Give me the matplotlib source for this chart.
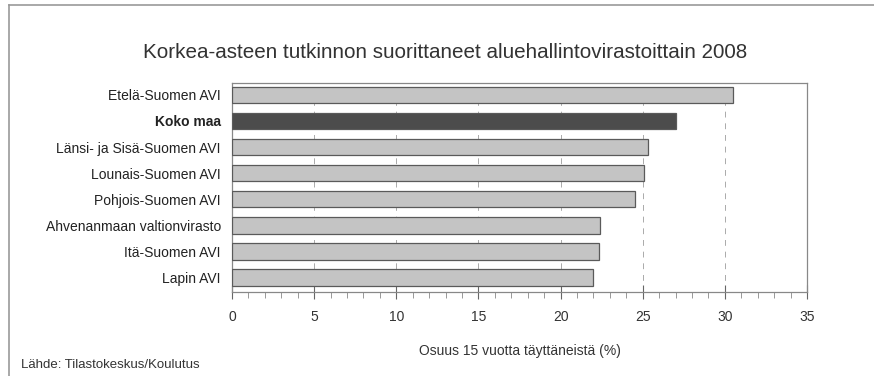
import matplotlib
matplotlib.use("Agg")
import matplotlib.pyplot as plt
from matplotlib.ticker import MultipleLocator
from matplotlib.lines import Line2D

categories = ["Etelä-Suomen AVI", "Koko maa", "Länsi- ja Sisä-Suomen AVI",
              "Lounais-Suomen AVI", "Pohjois-Suomen AVI",
              "Ahvenanmaan valtionvirasto", "Itä-Suomen AVI", "Lapin AVI"]
values = [30.5, 27.0, 25.3, 25.1, 24.5, 22.4, 22.35, 22.0]
highlight = "Koko maa"
xticks = [0, 5, 10, 15, 20, 25, 30, 35]
title = "Korkea-asteen tutkinnon suorittaneet aluehallintovirastoittain 2008"
xlabel = "Osuus 15 vuotta täyttäneistä (%)"
source = "Lähde: Tilastokeskus/Koulutus"

plt.rcParams['font.family'] = ['Liberation Sans', 'DejaVu Sans']

fig = plt.figure(figsize=(8.74, 3.76), dpi=100)
ax = fig.add_axes([232/874, 1-292/376, (807-232)/874, (292-83)/376])

colors = ["#4c4c4c" if c == highlight else "#c4c4c4" for c in categories]
pos = list(range(len(categories)))
ax.barh(pos, values, height=0.63, color=colors, edgecolor="#5a5a5a",
        linewidth=0.9, zorder=3)

ax.set_xlim(0, 35)
ax.set_ylim(len(categories) - 0.45, -0.45)
ax.set_xticks(xticks)
ax.xaxis.set_minor_locator(MultipleLocator(1))
ax.set_yticks(pos)
ax.set_yticklabels(categories, fontsize=10, color="#222222")
for lab in ax.get_yticklabels():
    if lab.get_text() == highlight:
        lab.set_fontweight("bold")
ax.tick_params(axis='y', length=0, pad=8)
ax.tick_params(axis='x', which='major', direction='inout', length=10,
               color="#666666", labelsize=10, labelcolor="#333333", pad=8)
ax.tick_params(axis='x', which='minor', direction='out', length=4,
               color="#888888")
ax.grid(axis='x', which='major', linestyle=(0, (6, 6)), color="#aaaaaa",
        linewidth=0.7, zorder=1)
for s in ax.spines.values():
    s.set_color("#888888")
    s.set_linewidth(0.9)

ax.set_xlabel(xlabel, fontsize=10, color="#333333", labelpad=14)
fig.text(0.5 * (142 + 748) / 874, 1 - 53/376, title, fontsize=14.9,
         ha='center', va='center', color="#333333")
fig.text(21/874, 1 - 365/376, source, fontsize=9.5, ha='left', va='center',
         color="#333333")

# outer frame (top and left edges)
fig.add_artist(Line2D([9/874, 1], [1 - 5/376, 1 - 5/376],
                      transform=fig.transFigure, color="#999999", lw=1.2))
fig.add_artist(Line2D([9/874, 9/874], [1 - 5/376, 0],
                      transform=fig.transFigure, color="#999999", lw=1.2))

fig.savefig("out.png", dpi=100)
